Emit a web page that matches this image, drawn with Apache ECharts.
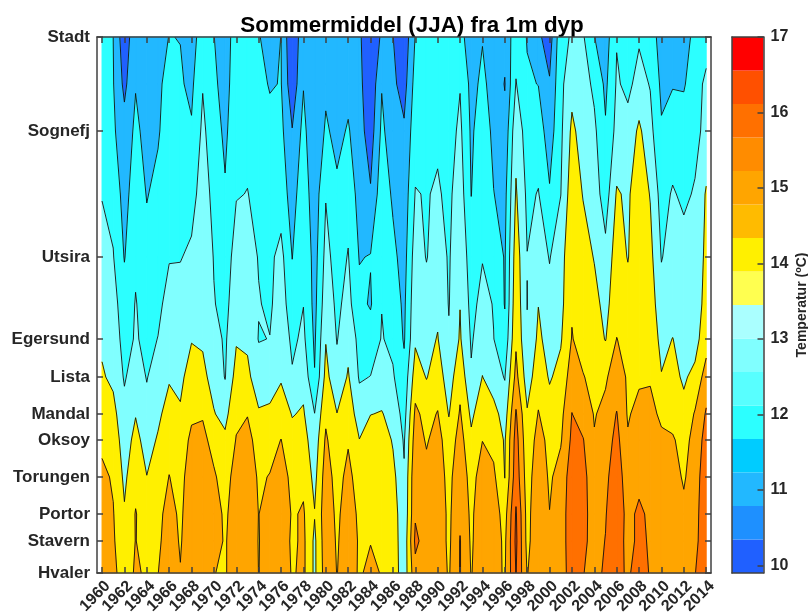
<!DOCTYPE html>
<html>
<head>
<meta charset="utf-8">
<style>
  html, body { margin: 0; padding: 0; background: #fff; }
  #chart { width: 808px; height: 614px; }
</style>
<script src="https://cdn.jsdelivr.net/npm/echarts@6/dist/echarts.min.js"></script>
</head>
<body>
<div id="chart"></div>
<script>
const years = [];
for (let y = 1960; y <= 2014; y++) years.push(y);
const yearTicks = years.filter((y) => y % 2 === 0);

// stations and their distance along the coast (arbitrary unit)
const stations = ["Stadt", "Sognefj", "Utsira", "Egersund", "Lista", "Mandal", "Oksoy", "Torungen", "Portor", "Stavern", "Hvaler"];
const stationDist = [0, 94, 220, 302, 340, 377, 403, 440, 477, 504, 536];

// sampled rows: the stations plus a few points between them
const rowDist = [0, 47, 94, 157, 220, 267, 302, 340, 377, 403, 440, 477, 504, 536];

// temperature, one line per year, one value per row
const temps = [
  [12.0, 12.1, 12.2, 12.45, 12.9, 13.1, 13.35, 13.6, 14.0, 14.3, 14.7, 15, 15, 15],
  [11.5, 11.55, 11.65, 12.2, 12.55, 12.9, 13.1, 13.3, 13.8, 14.1, 14.4, 14.55, 14.6, 14.7],
  [9.8, 10.25, 10.9, 11.1, 11.45, 11.9, 12.1, 12.4, 12.8, 13.0, 13.3, 13.6, 13.9, 14.1],
  [11.3, 11.45, 11.7, 12.1, 12.35, 12.55, 12.6, 13.0, 13.45, 13.8, 14.2, 14.55, 14.52, 14.6],
  [11.0, 11.1, 11.2, 11.45, 11.8, 12.1, 12.25, 12.45, 12.8, 13.1, 13.52, 14.0, 14.2, 14.4],
  [11.2, 11.3, 11.4, 11.75, 12.1, 12.3, 12.52, 13.0, 13.3, 13.6, 14, 14.2, 14.3, 14.48],
  [11.52, 11.85, 12, 12.2, 12.45, 12.8, 13.1, 13.4, 13.9, 14.2, 14.52, 14.9, 15, 15.1],
  [11.48, 11.6, 11.9, 12.3, 12.45, 12.9, 13.2, 13.3, 13.6, 14, 14.2, 14.3, 14.4, 14.55],
  [11.0, 11.3, 11.6, 12.1, 12.7, 13.0, 13.45, 13.9, 14.35, 14.7, 15, 15.2, 15.2, 15.2],
  [12.1, 12.45, 12.7, 13, 13.2, 13.3, 13.4, 13.7, 14.4, 14.8, 15.2, 15.45, 15.45, 15.2],
  [11.52, 11.7, 11.95, 12.2, 12.45, 12.55, 12.9, 13.2, 13.55, 14.1, 14.65, 15.0, 14.9, 14.52],
  [11, 11.1, 11.3, 11.6, 12, 12.2, 12.35, 12.45, 13.2, 13.7, 14.0, 14.3, 14.4, 14.4],
  [12.0, 12.1, 12.2, 12.45, 12.9, 13.1, 13.4, 13.9, 14.3, 14.55, 15, 15.1, 15.1, 15.1],
  [12.0, 12.15, 12.3, 12.52, 12.9, 13.1, 13.35, 13.7, 14.45, 14.9, 15.2, 15.3, 15.3, 15.45],
  [11.6, 11.9, 12.1, 12.3, 12.45, 12.55, 12.45, 13.0, 13.6, 14, 14.35, 14.48, 14.45, 14.48],
  [10.9, 11.4, 11.9, 12.2, 12.3, 12.35, 12.52, 13, 13.7, 14.1, 14.55, 15, 15.1, 15],
  [11.52, 11.55, 11.75, 12, 12.8, 13, 13.15, 13.4, 14.0, 14.52, 15, 15.2, 15.2, 15.2],
  [9.5, 9.8, 10.55, 11.1, 11.48, 11.9, 12.3, 12.6, 13.45, 13.8, 14.2, 14.4, 14.3, 14.4],
  [11.3, 11.45, 11.8, 12.1, 12.45, 12.48, 12.7, 13.2, 13.6, 13.9, 14.3, 14.6, 14.7, 14.7],
  [10.6, 10.7, 10.6, 10.9, 11.1, 11.2, 11.35, 11.55, 12.52, 12.9, 13.2, 13.55, 13.3, 13.3],
  [10.9, 11.3, 11.65, 12.45, 12.8, 13.1, 13.45, 13.8, 14.3, 14.65, 15, 15.1, 15.1, 15],
  [10.9, 11, 11.2, 11.7, 12.1, 12.3, 12.45, 12.8, 13.52, 13.8, 14.1, 14.3, 14.4, 14.48],
  [11, 11.2, 11.6, 12.2, 12.55, 12.8, 13.2, 13.6, 14.1, 14.4, 14.8, 15, 15, 14.9],
  [10.7, 10.8, 10.9, 11.1, 11.45, 11.75, 12.2, 12.4, 13.0, 13.52, 14, 14.3, 14.4, 14.4],
  [9.5, 9.7, 10.0, 10.6, 11.55, 11.4, 12.0, 12.52, 13.48, 14, 14.3, 14.48, 14.47, 14.7],
  [10.7, 11.45, 11.7, 12.1, 12.45, 12.48, 12.55, 13.0, 13.55, 14.1, 14.3, 14.3, 14.3, 14.45],
  [10.52, 10.7, 10.95, 11.35, 11.75, 12.05, 12.3, 12.6, 13.2, 13.4, 13.8, 14.1, 14.1, 14.1],
  [9.8, 10.1, 10.65, 10.9, 11.1, 11.3, 11.4, 11.8, 12.1, 12.4, 12.6, 12.7, 12.8, 12.9],
  [11.55, 11.9, 12.1, 12.55, 13, 13.2, 13.35, 14, 14.7, 15, 15.35, 15.4, 15.7, 15.2],
  [12.35, 12.3, 12.4, 12.45, 12.45, 12.9, 13.2, 13.45, 14.2, 14.4, 14.8, 15, 15.1, 15.1],
  [12.1, 12.2, 12.35, 12.6, 13, 13.3, 13.55, 14, 14.55, 14.9, 15, 15.1, 15.1, 15.1],
  [11.9, 12, 12.1, 12.3, 12.4, 12.45, 12.6, 13.0, 13.45, 13.9, 14.2, 14.3, 14.3, 14.4],
  [11.8, 12.45, 12.7, 13, 13.25, 13.48, 13.6, 14.2, 14.6, 14.9, 15.2, 15.3, 15.55, 15.55],
  [11.0, 11.2, 11.35, 11.48, 12.0, 12.2, 12.4, 12.6, 13.3, 13.7, 14.1, 14.3, 14.35, 14.45],
  [11.45, 11.7, 12, 12.3, 12.45, 12.8, 13, 13.52, 14.1, 14.48, 15, 15.2, 15.2, 15.1],
  [11, 11.15, 11.3, 11.52, 12.4, 12.45, 12.52, 12.9, 13.9, 14.2, 14.7, 15, 15, 14.8],
  [10.8, 10.45, 10.8, 11.2, 11.4, 11.45, 11.8, 12.45, 13.0, 13.4, 13.48, 14.1, 14.3, 14.4],
  [12.1, 12.55, 13.2, 13.6, 14.0, 14.2, 14.35, 14.8, 15.6, 15.9, 16.1, 16.6, 16.7, 16.55],
  [11.45, 11.6, 12.0, 12.3, 12.52, 12.48, 12.6, 13.0, 13.6, 13.8, 14, 14.15, 14.2, 14.45],
  [10.7, 11.48, 12, 12.55, 13, 13.48, 13.7, 14.1, 14.55, 14.9, 15.2, 15.3, 15.3, 15.2],
  [10.0, 10.6, 11.0, 11.6, 12.45, 12.8, 13.1, 13.4, 13.9, 14.2, 14.35, 14.52, 14.52, 14.6],
  [12.2, 12.25, 12.3, 12.48, 13.1, 13.2, 13.4, 13.8, 14.2, 14.4, 14.9, 15, 15, 15],
  [12.6, 13.2, 13.7, 14.1, 14.3, 14.4, 14.55, 15, 15.52, 15.7, 16, 16.1, 16.1, 16],
  [12.6, 12.9, 13.1, 13.45, 13.9, 14.0, 14.1, 14.55, 15.0, 15.55, 15.7, 15.7, 15.65, 15.52],
  [11.52, 12.3, 12.7, 13.0, 13.45, 13.8, 14.0, 14.2, 14.45, 14.55, 15.1, 15.2, 15.25, 15.3],
  [11, 11.3, 11.6, 12, 12.8, 13.2, 13.45, 14.4, 14.7, 15, 15.3, 15.45, 15.52, 15.6],
  [12.45, 12.6, 12.8, 13.6, 14, 14.1, 14.52, 14.9, 15.55, 15.8, 16, 16.1, 16, 15.7],
  [12, 12.3, 12.8, 13.35, 13.45, 13.9, 14.2, 14.4, 14.4, 14.6, 15, 15.2, 15.2, 15.4],
  [12.4, 12.8, 13.7, 14.1, 14.2, 14.3, 14.4, 14.35, 14.8, 15, 15.2, 15.7, 15.7, 15.8],
  [12.1, 12.45, 12.8, 13.45, 13.8, 14, 14.2, 14.4, 14.8, 15, 15.2, 15.3, 15.4, 15.45],
  [11, 11.3, 11.6, 12.1, 12.45, 12.9, 13.2, 13.55, 14.3, 14.7, 15.1, 15.2, 15.2, 15.2],
  [11, 11.45, 11.9, 12.6, 12.9, 13.05, 13.52, 13.7, 14, 14.65, 15, 15.2, 15.2, 15.2],
  [10.9, 11.4, 12, 12.3, 12.9, 13, 13.15, 13.4, 13.7, 14, 14.35, 14.8, 15, 15.1],
  [11.9, 12.1, 12.2, 12.6, 12.9, 13.1, 13.2, 13.7, 14.6, 15, 15.2, 15.25, 15.3, 15.48],
  [12.1, 12.7, 12.8, 13.6, 13.7, 13.75, 14.0, 15, 15.6, 15.8, 15.9, 16, 16, 15.9]
];

// contour levels and the colour of each band between them
const levels = [10.5, 11.5, 12.5, 13.5, 14.5, 15.5, 16.5];
const bandColors = ["#2060ff", "#22b8ff", "#2cffff", "#80ffff", "#fff000", "#ffa500", "#ff7000", "#ff5000"];

// colour bar
const barMin = 9.9;
const barMax = 17;
const barTicks = [10, 11, 12, 13, 14, 15, 16, 17];
const barColors = ["#2060ff", "#1e90ff", "#22b8ff", "#00ccff", "#2cffff", "#58ffff", "#80ffff", "#aaffff",
  "#ffff50", "#fff000", "#ffbb00", "#ffa500", "#ff8c00", "#ff7000", "#ff5000", "#ff0000"];

const axisColor = "#404040";
const textColor = "#262626";
const fontFamily = "Liberation Sans";

// cut a polygon at value L, keep the part above (sign 1) or below (sign -1)
function clip(poly, L, sign) {
  const out = [];
  for (let i = 0; i < poly.length; i++) {
    const a = poly[i];
    const b = poly[(i + 1) % poly.length];
    const aIn = (a[2] - L) * sign >= 0;
    const bIn = (b[2] - L) * sign >= 0;
    if (aIn) out.push(a);
    if (aIn !== bIn) {
      const t = (L - a[2]) / (b[2] - a[2]);
      out.push([a[0] + (b[0] - a[0]) * t, a[1] + (b[1] - a[1]) * t, L]);
    }
  }
  return out;
}

function cellCorners(i, j) {
  return [
    [years[i], rowDist[j], temps[i][j]],
    [years[i + 1], rowDist[j], temps[i + 1][j]],
    [years[i + 1], rowDist[j + 1], temps[i + 1][j + 1]],
    [years[i], rowDist[j + 1], temps[i][j + 1]],
  ];
}

const cells = [];
for (let i = 0; i < years.length - 1; i++) {
  for (let j = 0; j < rowDist.length - 1; j++) cells.push([i, j]);
}

const renderBands = (params, api) => {
  const corners = cellCorners(api.value(0), api.value(1));
  const children = [];
  bandColors.forEach((color, k) => {
    let poly = corners;
    if (k > 0) poly = clip(poly, levels[k - 1], 1);
    if (k < levels.length && poly.length) poly = clip(poly, levels[k], -1);
    if (poly.length < 3) return;
    children.push({
      type: "polygon",
      shape: { points: poly.map((p) => api.coord([p[0], p[1]])) },
      style: { fill: color, stroke: color, lineWidth: 1 },
    });
  });
  return { type: "group", children };
};

const renderLines = (params, api) => {
  const corners = cellCorners(api.value(0), api.value(1));
  const children = [];
  levels.forEach((L) => {
    const poly = clip(corners, L, 1);
    for (let n = 0; n < poly.length; n++) {
      const a = poly[n];
      const b = poly[(n + 1) % poly.length];
      if (a[2] !== L || b[2] !== L) continue;
      const p1 = api.coord([a[0], a[1]]);
      const p2 = api.coord([b[0], b[1]]);
      children.push({
        type: "line",
        shape: { x1: p1[0], y1: p1[1], x2: p2[0], y2: p2[1] },
        style: { stroke: "#111", lineWidth: 0.9 },
      });
    }
  });
  return { type: "group", children };
};

const renderBar = (params, api) => {
  const k = api.value(0);
  const step = (barMax - barMin) / barColors.length;
  const p1 = api.coord([0, barMin + step * (k + 1)]);
  const p2 = api.coord([1, barMin + step * k]);
  return {
    type: "rect",
    shape: { x: p1[0], y: p1[1], width: p2[0] - p1[0], height: p2[1] - p1[1] },
    style: { fill: barColors[k] },
  };
};

const lineStyle = { color: axisColor, width: 1.5 };
const plainLine = { show: true, onZero: false, lineStyle };
const hiddenLabel = { show: false };
const noTick = { show: false };
const noSplit = { show: false };

const chart = echarts.init(document.getElementById("chart"), null, { renderer: "canvas" });
chart.setOption({
  animation: false,
  backgroundColor: "#fff",
  title: {
    text: "Sommermiddel (JJA) fra 1m dyp",
    left: 407,
    top: 10,
    textAlign: "center",
    textStyle: { fontFamily, fontSize: 22.4, fontWeight: "bold", color: "#000" },
  },
  grid: [
    { left: 97, top: 37, width: 614, height: 536, outerBoundsMode: "none" },
    { left: 732, top: 37, width: 31.5, height: 536, outerBoundsMode: "none" },
  ],
  xAxis: [
    {
      type: "value", gridIndex: 0, position: "bottom", min: 1959.55, max: 2014.43, z: 10,
      splitLine: noSplit,
      axisLine: plainLine,
      axisTick: { inside: true, length: 6, lineStyle, customValues: yearTicks },
      axisLabel: {
        rotate: 45, margin: 5, verticalAlign: "top", fontFamily, fontSize: 16, fontWeight: "bold", color: textColor,
        customValues: yearTicks, formatter: (v) => String(v),
      },
    },
    {
      type: "value", gridIndex: 0, position: "top", min: 1959.55, max: 2014.43, z: 10,
      splitLine: noSplit,
      axisLine: plainLine,
      axisTick: { inside: true, length: 6, lineStyle, customValues: yearTicks },
      axisLabel: hiddenLabel,
    },
    { type: "value", gridIndex: 1, position: "bottom", min: 0, max: 1, z: 10, splitLine: noSplit, axisLine: plainLine, axisTick: noTick, axisLabel: hiddenLabel },
    { type: "value", gridIndex: 1, position: "top", min: 0, max: 1, z: 10, splitLine: noSplit, axisLine: plainLine, axisTick: noTick, axisLabel: hiddenLabel },
  ],
  yAxis: [
    {
      type: "value", gridIndex: 0, position: "left", inverse: true, min: 0, max: 536, z: 10,
      splitLine: noSplit,
      axisLine: plainLine,
      axisTick: { inside: true, length: 6, lineStyle, customValues: stationDist },
      axisLabel: {
        margin: 7, fontFamily, fontSize: 17, fontWeight: "bold", color: textColor,
        customValues: stationDist,
        formatter: (v) => stations[stationDist.indexOf(v)],
      },
    },
    {
      type: "value", gridIndex: 0, position: "right", inverse: true, min: 0, max: 536, z: 10,
      splitLine: noSplit,
      axisLine: plainLine,
      axisTick: { inside: true, length: 6, lineStyle, customValues: stationDist },
      axisLabel: hiddenLabel,
    },
    {
      type: "value", gridIndex: 1, position: "right", min: barMin, max: barMax, z: 10,
      splitLine: noSplit,
      axisLine: plainLine,
      axisTick: { inside: true, length: 6, lineStyle, customValues: barTicks },
      axisLabel: {
        margin: 7, fontFamily, fontSize: 16, fontWeight: "bold", color: textColor,
        customValues: barTicks, formatter: (v) => String(v),
      },
      name: "Temperatur ({sup|o}C)",
      nameLocation: "middle",
      nameRotate: 90,
      nameGap: 31,
      nameTextStyle: {
        fontFamily, fontSize: 14, fontWeight: "bold", color: textColor,
        rich: { sup: { fontFamily, fontSize: 9, fontWeight: "bold", color: textColor, verticalAlign: "bottom", padding: [0, 0, 6, 0] } },
      },
    },
    { type: "value", gridIndex: 1, position: "left", min: barMin, max: barMax, z: 10, splitLine: noSplit, axisLine: plainLine, axisTick: noTick, axisLabel: hiddenLabel },
  ],
  series: [
    { type: "custom", xAxisIndex: 0, yAxisIndex: 0, data: cells, renderItem: renderBands, encode: { x: 0, y: 1 }, silent: true, z: 2, progressive: 0 },
    { type: "custom", xAxisIndex: 0, yAxisIndex: 0, data: cells, renderItem: renderLines, encode: { x: 0, y: 1 }, silent: true, z: 3, progressive: 0 },
    { type: "custom", xAxisIndex: 2, yAxisIndex: 2, data: barColors.map((c, k) => [k]), renderItem: renderBar, silent: true, z: 2 },
  ],
});
</script>
</body>
</html>
